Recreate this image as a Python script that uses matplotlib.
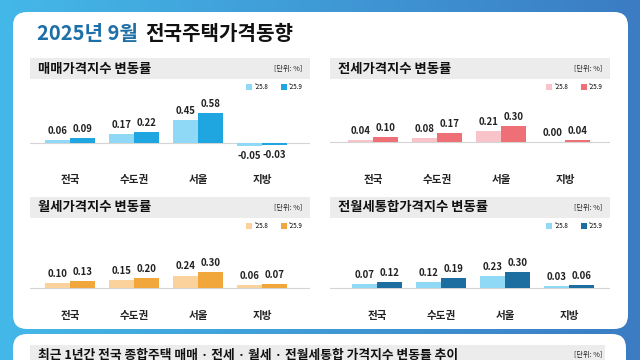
import matplotlib
matplotlib.use("Agg")
import matplotlib.pyplot as plt
import numpy as np
from matplotlib.patches import FancyBboxPatch, Rectangle
from matplotlib.colors import to_rgb

plt.rcParams['font.family'] = ['Noto Sans CJK KR', 'DejaVu Sans']

# data
cats = ['전국', '수도권', '서울', '지방']
periods = ["'25.8", "'25.9"]
sale_aug = [0.06, 0.17, 0.45, -0.05]
sale_sep = [0.09, 0.22, 0.58, -0.03]
jeonse_aug = [0.04, 0.08, 0.21, 0.00]
jeonse_sep = [0.10, 0.17, 0.30, 0.04]
rent_aug = [0.10, 0.15, 0.24, 0.06]
rent_sep = [0.13, 0.20, 0.30, 0.07]
total_aug = [0.07, 0.12, 0.23, 0.03]
total_sep = [0.12, 0.19, 0.30, 0.06]

W, H = 640, 360
fig = plt.figure(figsize=(6.4, 3.6), dpi=100)

# background axes in pixel coords
bg = fig.add_axes([0, 0, 1, 1])
bg.set_xlim(0, W)
bg.set_ylim(H, 0)
bg.axis("off")

c_left = np.array(to_rgb('#44b8e8'))
c_right = np.array(to_rgb('#3b7cc3'))
t = np.linspace(0, 1, 256)
grad = (c_left[None, :] * (1 - t[:, None]) + c_right[None, :] * t[:, None])[None, :, :]
bg.imshow(grad, extent=[0, W, H, 0], aspect='auto', zorder=0)

bg.add_patch(FancyBboxPatch((13, 12), 615, 317, boxstyle="round,pad=0,rounding_size=14",
                            fc='white', ec='none', zorder=1))
bg.add_patch(FancyBboxPatch((13, 334), 613, 60, boxstyle="round,pad=0,rounding_size=14",
                            fc='white', ec='none', zorder=1))

t1 = bg.text(37, 34, '2025년 9월', color='#1d6fa8', fontsize=14.5, fontweight='bold',
             va='center', ha='left', zorder=3)
bg.annotate('전국주택가격동향', xy=(1, 0.5), xycoords=t1, xytext=(5, 0),
            textcoords='offset points', fontsize=14.5, fontweight='bold',
            va='center', ha='left', color='#111111', zorder=3)

# bottom header
bg.add_patch(Rectangle((30, 345), 575, 20, fc='#ececec', ec='none', zorder=2))
bg.text(38, 355, '최근 1년간 전국 종합주택 매매 · 전세 · 월세 · 전월세통합 가격지수 변동률 추이',
        fontsize=9.2, fontweight='bold', va='center', ha='left', color='#111111', zorder=3)
bg.text(602, 355, '[단위: %]', fontsize=5.2, va='center', ha='right', color='#222222', zorder=3)

panels = [
    ('매매가격지수 변동률', sale_aug, sale_sep, '#8fd9f6', '#1fa6e0', 30, 58, 143, 40, 180),
    ('전세가격지수 변동률', jeonse_aug, jeonse_sep, '#f9c3ca', '#ef6f77', 330, 58, 142, 43, 180),
    ('월세가격지수 변동률', rent_aug, rent_sep, '#fbd29c', '#f1a73c', 30, 197, 288, 40, 316),
    ('전월세통합가격지수 변동률', total_aug, total_sep, '#8fd9f6', '#1b6e9f', 330, 197, 288, 47, 316),
]

scale = 52.0   # px per 1 %p
spacing = 64.0  # px between groups
pw = 280

for title, aug, sep, col1, col2, hx, hy, by, c0, label_y in panels:
    # header bar
    bg.add_patch(Rectangle((hx, hy), pw, 21, fc='#ececec', ec='none', zorder=2))
    bg.text(hx + 8, hy + 10.5, title, fontsize=9.6, fontweight='bold',
            va='center', ha='left', color='#111111', zorder=3)
    bg.text(hx + pw - 8, hy + 11, '[단위: %]', fontsize=5.2, va='center', ha='right',
            color='#222222', zorder=3)

    top_px, bot_px = by - 60, by + 22
    ax = fig.add_axes([hx / W, 1 - bot_px / H, pw / W, (bot_px - top_px) / H])
    ax.patch.set_alpha(0)
    ax.set_xlim(-c0 / spacing, (pw - c0) / spacing)
    ax.set_ylim(-(bot_px - by) / scale, (by - top_px) / scale)
    for s in ax.spines.values():
        s.set_visible(False)
    ax.set_yticks([])

    x = np.arange(len(cats))
    bw = 25 / spacing
    b1 = ax.bar(x - bw / 2, aug, bw, color=col1, label=periods[0], zorder=2)
    b2 = ax.bar(x + bw / 2, sep, bw, color=col2, label=periods[1], zorder=2)
    ax.axhline(0, color='#d4d4d4', lw=0.8, zorder=1)

    for bars, vals in ((b1, aug), (b2, sep)):
        for rect, v in zip(bars, vals):
            cx = rect.get_x() + rect.get_width() / 2
            off = -7.5 if v < 0 else 6.5
            ax.annotate(f'{v:.2f}', xy=(cx, v), xytext=(0, off), textcoords='offset points',
                        ha='center', va='center', fontsize=6.9, fontweight='bold',
                        color='#222222')

    ax.set_xticks(x, cats)
    ax.tick_params(axis='x', length=0, pad=(label_y - 5 - bot_px) * 0.72, labelsize=7.6)
    for lab in ax.get_xticklabels():
        lab.set_fontweight('bold')
        lab.set_color('#222222')

    ax.legend(loc='center right',
              bbox_to_anchor=(1 - 5 / pw, 1 - (hy + 29 - top_px) / (bot_px - top_px)),
              ncol=2, frameon=False, fontsize=4.5, handlelength=1.0, handleheight=1.0,
              handletextpad=0.3, columnspacing=2.0, borderaxespad=0)

fig.savefig('out.png', dpi=100)
